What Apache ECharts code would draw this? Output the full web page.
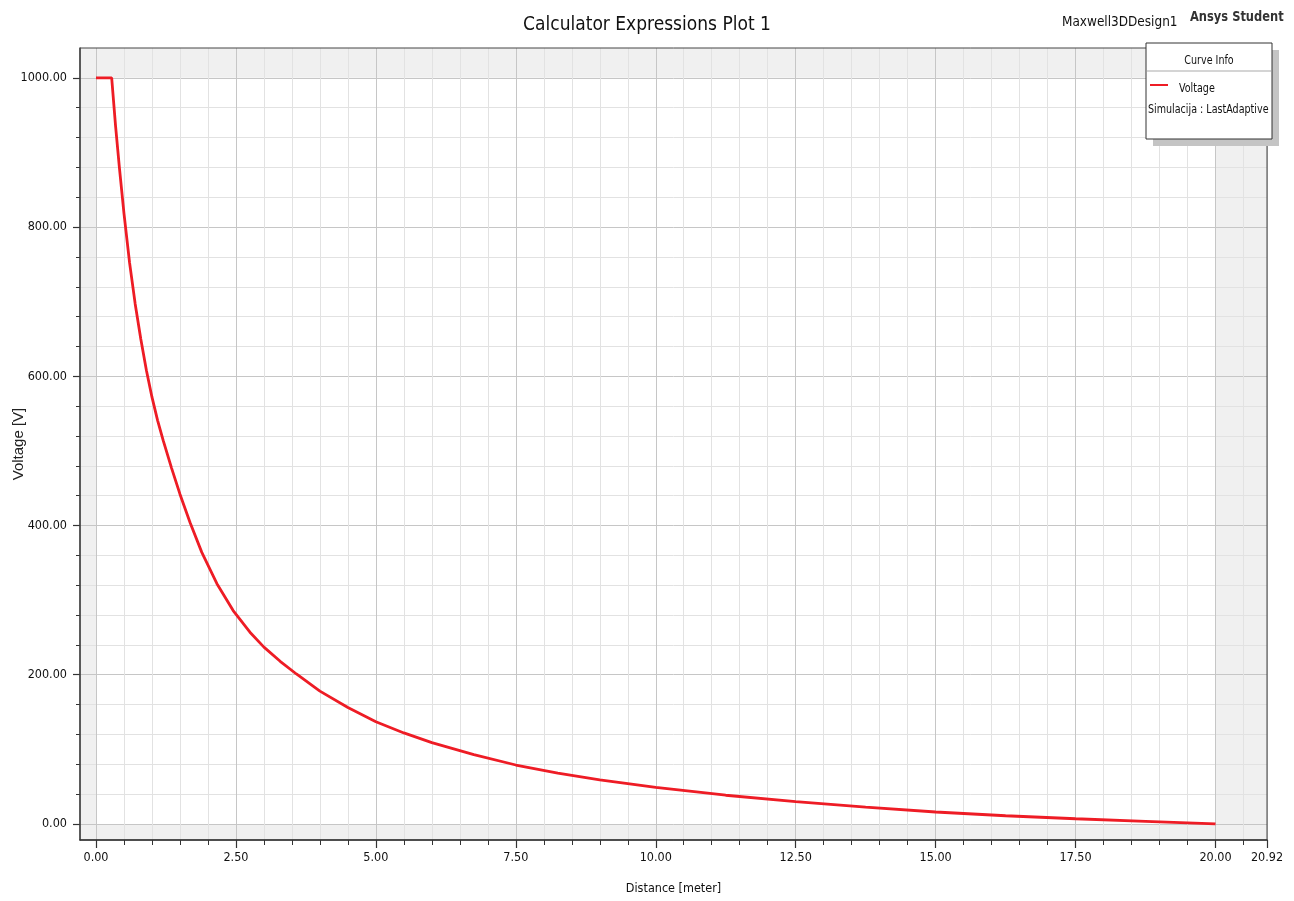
<!DOCTYPE html>
<html><head><meta charset="utf-8">
<script src="https://cdn.jsdelivr.net/npm/echarts@6/dist/echarts.min.js"></script>
<style>html,body{margin:0;padding:0;background:#fff}#c{width:1294px;height:901px}</style>
</head><body><div id="c"></div>
<script>
// ---- data ----
const distance = [0, 0.28, 0.35, 0.42, 0.5, 0.6, 0.7, 0.8, 0.9, 1.0, 1.1, 1.2, 1.35, 1.5, 1.68, 1.89, 2.16, 2.45, 2.75, 3.0, 3.29, 3.58, 4.0, 4.5, 5.0, 5.5, 6.0, 6.75, 7.5, 8.25, 9.0, 10.0, 11.25, 12.5, 13.75, 15.0, 16.25, 17.5, 18.75, 20.0];
const voltage  = [1000, 1000, 935, 878, 818, 752, 697, 650, 608, 572, 541, 514, 477, 442, 404, 364, 322, 286, 257, 237, 218, 201, 178, 156, 137, 122, 109, 93, 79, 68, 59, 49, 38.5, 30, 22.5, 16, 11, 7, 3.5, 0];
const yTicks = [0, 200, 400, 600, 800, 1000];
const xTickStep = 2.5;
const frameX = [-0.286, 20.92];
const frameY = [-21.5, 1040];
const dataBoxX = [0, 20];
const dataBoxY = [0, 1000];

const FONT = "'DejaVu Sans Condensed', 'Liberation Sans Narrow', 'Arial Narrow', sans-serif";
const chart = echarts.init(document.getElementById('c'), null, {renderer: 'canvas'});

const G = {left: 80, top: 48, right: 27, bottom: 61};
const gw = 1294 - G.left - G.right;
const innerLeft = G.left + (0 - frameX[0]) / (frameX[1] - frameX[0]) * gw;

const points = distance.map((d, i) => [d, voltage[i]]);

const gridLine = {color: '#c6c6c6', width: 1};
const minorLine = {color: '#e2e2e2', width: 1};

chart.setOption({
  animation: false,
  backgroundColor: '#ffffff',
  title: {
    text: 'Calculator Expressions Plot 1',
    left: 'center', top: 11,
    textStyle: {fontFamily: FONT, fontSize: 19, fontWeight: 'normal', color: '#111'}
  },
  grid: [
    {left: G.left, top: G.top, right: G.right, bottom: G.bottom, show: true, z: 4, backgroundColor: 'transparent', borderColor: '#444', borderWidth: 1, containLabel: false, outerBoundsMode: 'none'},
    {left: innerLeft, top: G.top, right: G.right, bottom: G.bottom, containLabel: false, outerBoundsMode: 'none'}
  ],
  xAxis: [
    {gridIndex: 0, type: 'value', min: frameX[0], max: frameX[1], z: 4,
     name: 'Distance [meter]', nameLocation: 'middle', nameGap: 42, nameMoveOverlap: false,
     nameTextStyle: {fontFamily: FONT, fontSize: 12.5, color: '#111'},
     axisLine: {show: true, onZero: false, lineStyle: {color: '#333', width: 1.5}},
     axisTick: {show: false}, axisLabel: {show: false}, splitLine: {show: false}},
    {gridIndex: 1, type: 'value', min: 0, max: frameX[1], interval: xTickStep, z: 3,
     axisLine: {show: false, onZero: false},
     axisTick: {show: true, length: 8, lineStyle: {color: '#333', width: 1.2}},
     minorTick: {show: true, splitNumber: 5, length: 5, lineStyle: {color: '#333', width: 1}},
     axisLabel: {show: true, showMaxLabel: true, showMinLabel: true, margin: 11, fontFamily: FONT, fontSize: 12.5, color: '#111', formatter: v => v.toFixed(2)},
     splitLine: {show: true, lineStyle: gridLine},
     minorSplitLine: {show: true, lineStyle: minorLine}}
  ],
  yAxis: [
    {gridIndex: 0, type: 'value', min: frameY[0], max: frameY[1], z: 3,
     name: 'Voltage [V]', nameLocation: 'middle', nameGap: 54, nameRotate: 90, nameMoveOverlap: false,
     nameTextStyle: {fontFamily: "'Liberation Sans', Arial, sans-serif", fontSize: 15, color: '#222'},
     axisLine: {show: true, onZero: false, lineStyle: {color: '#444', width: 1.5}},
     axisTick: {show: true, length: 7, customValues: yTicks, lineStyle: {color: '#333', width: 1.2}},
     minorTick: {show: true, splitNumber: 5, length: 4, lineStyle: {color: '#333', width: 1}},
     axisLabel: {show: true, customValues: yTicks, margin: 13, fontFamily: FONT, fontSize: 12.5, color: '#111', formatter: v => v.toFixed(2)},
     splitLine: {show: true, lineStyle: gridLine},
     minorSplitLine: {show: true, lineStyle: minorLine}},
    {gridIndex: 1, type: 'value', min: frameY[0], max: frameY[1], show: false,
     splitLine: {show: false}}
  ],
  series: [
    {type: 'line', xAxisIndex: 0, yAxisIndex: 0, data: [], z: -1, silent: true,
     markArea: {silent: true, z: -1, data: [
       [{xAxis: frameX[0], yAxis: frameY[0], itemStyle: {color: '#f0f0f0'}}, {xAxis: frameX[1], yAxis: frameY[1]}],
       [{xAxis: dataBoxX[0], yAxis: dataBoxY[0], itemStyle: {color: '#ffffff'}}, {xAxis: dataBoxX[1], yAxis: dataBoxY[1]}]
     ]}},
    {name: 'Voltage', type: 'line', xAxisIndex: 1, yAxisIndex: 1, data: points, z: 6,
     showSymbol: false, symbol: 'none', smooth: false,
     lineStyle: {color: '#ee1c25', width: 2.8}}
  ],
  graphic: [
    {type: 'text', x: 1062, y: 22, z: 10, scaleX: 0.96, style: {text: 'Maxwell3DDesign1', textVerticalAlign: 'middle', fontFamily: FONT, fontSize: 14, fill: '#111'}},
    {type: 'text', x: 1190, y: 17, z: 10, scaleX: 0.91, style: {text: 'Ansys Student', textVerticalAlign: 'middle', fontFamily: FONT, fontSize: 14, fontWeight: 'bold', fill: '#333'}},
    {type: 'group', x: 1146, y: 43, z: 10, children: [
      {type: 'rect', z: 10, z2: 0, shape: {x: 7, y: 7, width: 126, height: 96}, style: {fill: '#c4c4c4'}},
      {type: 'rect', z: 10, z2: 1, shape: {x: 0, y: 0, width: 126, height: 96}, style: {fill: '#ffffff', stroke: '#333', lineWidth: 1}},
      {type: 'text', z: 10, z2: 5, x: 63, y: 18, scaleX: 0.85, style: {text: 'Curve Info', textAlign: 'center', textVerticalAlign: 'middle', fontFamily: FONT, fontSize: 12.5, fill: '#111'}},
      {type: 'line', z: 10, z2: 5, shape: {x1: 1, y1: 28, x2: 125, y2: 28}, style: {stroke: '#d4d4d4', lineWidth: 2}},
      {type: 'line', z: 10, z2: 5, shape: {x1: 4, y1: 42, x2: 22, y2: 42}, style: {stroke: '#ee1c25', lineWidth: 2}},
      {type: 'text', z: 10, z2: 5, x: 33, y: 46, scaleX: 0.85, style: {text: 'Voltage', textVerticalAlign: 'middle', fontFamily: FONT, fontSize: 12.5, fill: '#111'}},
      {type: 'text', z: 10, z2: 5, x: 2, y: 67, scaleX: 0.85, style: {text: 'Simulacija : LastAdaptive', textVerticalAlign: 'middle', fontFamily: FONT, fontSize: 12.5, fill: '#111'}}
    ]}
  ]
});
</script>
</body></html>
